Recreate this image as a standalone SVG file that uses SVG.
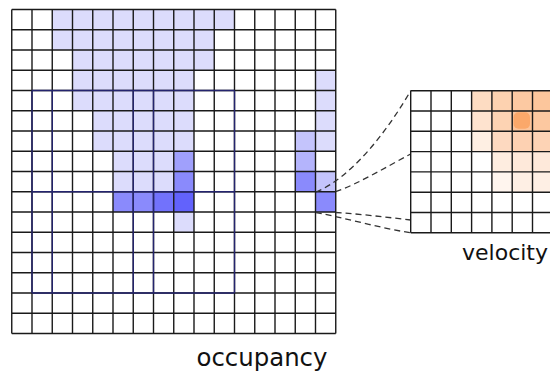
<svg xmlns="http://www.w3.org/2000/svg" width="550" height="374" viewBox="0 0 550 374">
<style>
.grid{fill:none;stroke:#1a1a1a;stroke-width:1.4}
.wall{fill:none;stroke:#24246e;stroke-width:1.4}
.l1{fill:#dcdcfc}.l2{fill:#c4c4fc}.l3{fill:#b4b4fc}.m1{fill:#a0a0fc}.m2{fill:#8a8afc}.d1{fill:#7272fc}.d2{fill:#6262fc}
.dash{fill:none;stroke:#333;stroke-width:1.3;stroke-dasharray:6 4}
.lbl{font-family:"DejaVu Sans",sans-serif;fill:#111}
</style>
<rect width="550" height="374" fill="#fff"/>
<g id="occupancy">
<g id="occ-cells">
<rect class="l1" x="52.25" y="9.5" width="182.25" height="20.25"/>
<rect class="l1" x="52.25" y="29.75" width="162" height="20.25"/>
<rect class="l1" x="72.5" y="50" width="141.75" height="20.25"/>
<rect class="l1" x="72.5" y="70.25" width="121.5" height="40.5"/>
<rect class="l1" x="315.5" y="70.25" width="20.25" height="81"/>
<rect class="l1" x="92.75" y="110.75" width="101.25" height="40.5"/>
<rect class="l2" x="295.25" y="131" width="20.25" height="20.25"/>
<rect class="l1" x="113" y="151.25" width="60.75" height="40.5"/>
<rect class="m1" x="173.75" y="151.25" width="20.25" height="20.25"/>
<rect class="l3" x="295.25" y="151.25" width="20.25" height="20.25"/>
<rect class="m2" x="173.75" y="171.5" width="20.25" height="20.25"/>
<rect class="m2" x="295.25" y="171.5" width="20.25" height="20.25"/>
<rect class="l2" x="315.5" y="171.5" width="20.25" height="20.25"/>
<rect class="m2" x="113" y="191.75" width="40.5" height="20.25"/>
<rect class="d1" x="153.5" y="191.75" width="20.25" height="20.25"/>
<rect class="d2" x="173.75" y="191.75" width="20.25" height="20.25"/>
<rect class="m2" x="315.5" y="191.75" width="20.25" height="20.25"/>
<rect class="l1" x="173.75" y="212" width="20.25" height="20.25"/>
</g>
<path class="grid" d="M11.75 9.5V333.5M32 9.5V333.5M52.25 9.5V333.5M72.5 9.5V333.5M92.75 9.5V333.5M113 9.5V333.5M133.25 9.5V333.5M153.5 9.5V333.5M173.75 9.5V333.5M194 9.5V333.5M214.25 9.5V333.5M234.5 9.5V333.5M254.75 9.5V333.5M275 9.5V333.5M295.25 9.5V333.5M315.5 9.5V333.5M335.75 9.5V333.5M11.75 9.5H335.75M11.75 29.75H335.75M11.75 50H335.75M11.75 70.25H335.75M11.75 90.5H335.75M11.75 110.75H335.75M11.75 131H335.75M11.75 151.25H335.75M11.75 171.5H335.75M11.75 191.75H335.75M11.75 212H335.75M11.75 232.25H335.75M11.75 252.5H335.75M11.75 272.75H335.75M11.75 293H335.75M11.75 313.25H335.75M11.75 333.5H335.75"/>
<path class="wall" d="M32 90.5H234.5M32 191.75H234.5M32 293H234.5M32 90.5V293M52.25 90.5V293M133.25 90.5V293M153.5 90.5V293M234.5 90.5V293"/>
<text class="lbl" x="196.5" y="366" font-size="24.4">occupancy</text>
</g>
<g id="connectors">
<path class="dash" d="M316 192C350 178 385 135 410.7 90.7"/>
<path class="dash" d="M335.7 191.7C358 184 388 166 410.7 154"/>
<path class="dash" d="M316 212.5C345 218 380 228 410.7 232.8"/>
<path class="dash" d="M335.7 212.5C360 214 385 217 410.7 220"/>
</g>
<g id="velocity">
<rect x="410.7" y="90.7" width="145" height="142.1" fill="#fff"/>
<g id="vel-cells">
<rect x="471.6" y="90.7" width="20.3" height="20.3" fill="#fddcc2"/>
<rect x="491.9" y="90.7" width="20.3" height="20.3" fill="#fdd2b0"/>
<rect x="512.2" y="90.7" width="20.3" height="20.3" fill="#fcc9a2"/>
<rect x="532.5" y="90.7" width="20.3" height="20.3" fill="#fcc69c"/>
<rect x="471.6" y="111" width="20.3" height="20.3" fill="#fee3cf"/>
<rect x="491.9" y="111" width="20.3" height="20.3" fill="#fdd3b3"/>
<rect x="512.2" y="111" width="20.3" height="20.3" fill="#fcc49a"/>
<rect x="513.5" y="112.3" width="16.5" height="16.5" rx="5" fill="#fba86a"/>
<rect x="532.5" y="111" width="20.3" height="20.3" fill="#fcc8a0"/>
<rect x="471.6" y="131.3" width="20.3" height="20.3" fill="#feefe3"/>
<rect x="491.9" y="131.3" width="20.3" height="20.3" fill="#fdd9c0"/>
<rect x="512.2" y="131.3" width="20.3" height="20.3" fill="#fdd1b2"/>
<rect x="532.5" y="131.3" width="20.3" height="20.3" fill="#fdd3b5"/>
<rect x="491.9" y="151.6" width="20.3" height="20.3" fill="#feede0"/>
<rect x="512.2" y="151.6" width="40.6" height="20.3" fill="#fee9da"/>
<rect x="491.9" y="171.9" width="20.3" height="20.3" fill="#fff5ee"/>
<rect x="512.2" y="171.9" width="40.6" height="20.3" fill="#feefe4"/>
</g>
<path class="grid" d="M410.7 90.7V232.8M431 90.7V232.8M451.3 90.7V232.8M471.6 90.7V232.8M491.9 90.7V232.8M512.2 90.7V232.8M532.5 90.7V232.8M410.7 90.7H556M410.7 111H556M410.7 131.3H556M410.7 151.6H556M410.7 171.9H556M410.7 192.2H556M410.7 212.5H556M410.7 232.8H556"/>
<text class="lbl" x="462" y="260" font-size="22">velocity</text>
</g>
</svg>
